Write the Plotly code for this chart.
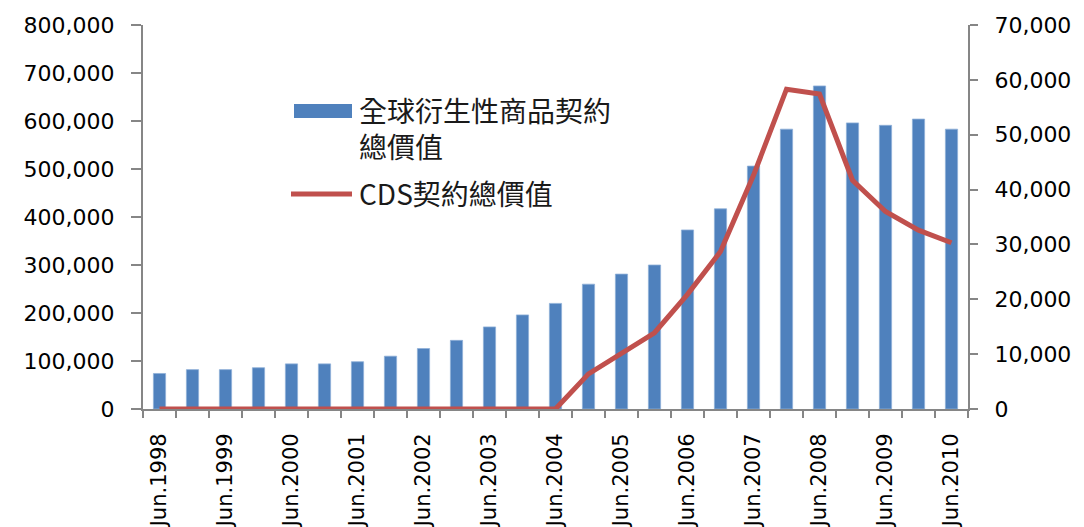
import plotly.graph_objects as go

# Half-year reporting periods
periods = [
    "Jun.1998", "Dec.1998", "Jun.1999", "Dec.1999", "Jun.2000", "Dec.2000",
    "Jun.2001", "Dec.2001", "Jun.2002", "Dec.2002", "Jun.2003", "Dec.2003",
    "Jun.2004", "Dec.2004", "Jun.2005", "Dec.2005", "Jun.2006", "Dec.2006",
    "Jun.2007", "Dec.2007", "Jun.2008", "Dec.2008", "Jun.2009", "Dec.2009",
    "Jun.2010",
]

# Notional amount of all OTC derivatives (left axis)
derivatives_total = [
    74000, 82000, 82000, 86000, 94000, 94000,
    98500, 110000, 126000, 143000, 171000, 196000,
    220000, 260000, 281000, 300000, 373000, 417000,
    506000, 583000, 673000, 596000, 591000, 604000,
    583000,
]

# Notional amount of credit default swaps (right axis)
cds_total = [
    0, 0, 0, 0, 0, 0,
    0, 0, 0, 0, 0, 0,
    0, 6400, 10200, 13900, 20900, 28700,
    42600, 58300, 57400, 41700, 36000, 32600,
    30300,
]

bar_name_lines = ["全球衍生性商品契約", "總價值"]
line_name = "CDS契約總價值"

BLUE = "#4F81BD"
RED = "#C0504D"
AXIS = "#868686"
TICK_FONT = dict(family="DejaVu Sans, Verdana, sans-serif", size=22, color="#000000")
CJK = "Noto Sans CJK TC, DejaVu Sans, sans-serif"

x = list(range(len(periods)))
label_idx = [i for i, p in enumerate(periods) if p.startswith("Jun")]

fig = go.Figure()
fig.add_trace(go.Bar(
    x=x, y=derivatives_total, name="".join(bar_name_lines), width=0.37,
    marker=dict(color=BLUE, line=dict(color="#8fb0d8", width=0.8)),
    yaxis="y", showlegend=False,
))
fig.add_trace(go.Scatter(
    x=x, y=cds_total, name=line_name, mode="lines",
    line=dict(color=RED, width=5), yaxis="y2", cliponaxis=False,
    showlegend=False,
))

fig.update_layout(
    width=1084, height=527,
    margin=dict(l=143, r=116, t=25, b=118, autoexpand=False),
    paper_bgcolor="white", plot_bgcolor="white",
    xaxis=dict(
        range=[-0.5, len(periods) - 0.5],
        tickmode="array",
        tickvals=label_idx,
        ticktext=[periods[i] for i in label_idx],
        tickangle=-90,
        ticks="",
        automargin=False,
        tickfont=dict(family=TICK_FONT["family"], size=21, color="#000000"),
        ticklabelstandoff=14,
        showline=True, linecolor=AXIS, linewidth=2,
        showgrid=False, zeroline=False,
        minor=dict(tickmode="linear", tick0=-0.5, dtick=1, ticks="outside",
                   ticklen=7, tickwidth=2, tickcolor=AXIS, showgrid=False),
    ),
    yaxis=dict(
        range=[0, 800000], dtick=100000, tickformat=",",
        ticks="outside", ticklen=10, tickwidth=2, tickcolor=AXIS,
        tickfont=TICK_FONT, ticklabelstandoff=12, automargin=False,
        showline=True, linecolor=AXIS, linewidth=2,
        showgrid=False, zeroline=False,
    ),
    yaxis2=dict(
        range=[0, 70000], dtick=10000, tickformat=",",
        overlaying="y", side="right", anchor="x",
        ticks="outside", ticklen=8, tickwidth=2, tickcolor=AXIS,
        tickfont=TICK_FONT, ticklabelstandoff=12, automargin=False,
        showline=True, linecolor=AXIS, linewidth=2,
        showgrid=False, zeroline=False,
    ),
)

# Legend drawn inside the plot area
def px_x(v):
    return (v - 143) / 825

def px_y(v):
    return (409 - v) / 384

fig.add_shape(type="rect", xref="paper", yref="paper",
              x0=px_x(294), x1=px_x(352), y0=px_y(118), y1=px_y(104),
              fillcolor=BLUE, line=dict(width=0))
fig.add_shape(type="line", xref="paper", yref="paper",
              x0=px_x(291), x1=px_x(352), y0=px_y(194), y1=px_y(194),
              line=dict(color=RED, width=5))

legend_font = dict(family=CJK, size=28, color="#1a1a1a")
fig.add_annotation(xref="paper", yref="paper", x=px_x(358), y=px_y(89),
                   xanchor="left", yanchor="top", align="left", showarrow=False,
                   text="<br>".join(bar_name_lines), font=legend_font,
                   borderpad=0)
fig.add_annotation(xref="paper", yref="paper", x=px_x(358), y=px_y(193),
                   xanchor="left", yanchor="middle", showarrow=False,
                   text=line_name, font=legend_font, borderpad=0)

fig.write_html("out.html")
